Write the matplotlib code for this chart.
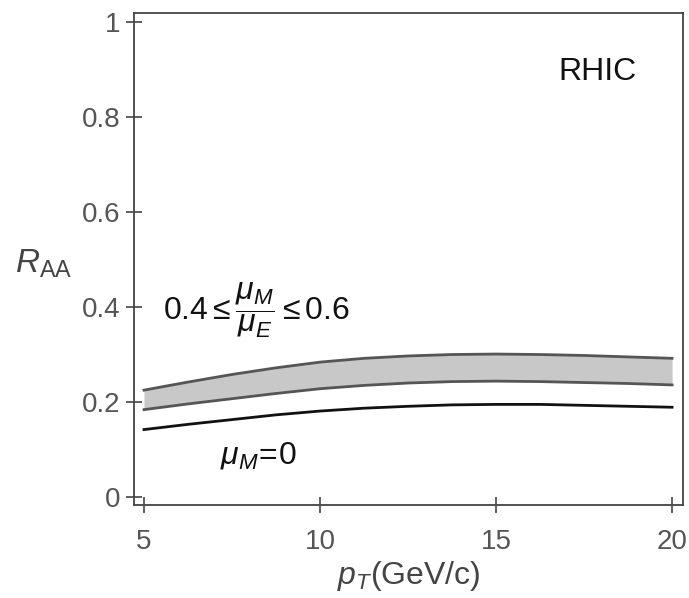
import matplotlib
matplotlib.use("Agg")
import matplotlib.pyplot as plt

plt.rcParams['font.family'] = ['Liberation Sans', 'DejaVu Sans']
plt.rcParams['mathtext.fontset'] = 'custom'
plt.rcParams['mathtext.rm'] = 'Liberation Sans'
plt.rcParams['mathtext.it'] = 'Liberation Sans:italic'
plt.rcParams['mathtext.bf'] = 'Liberation Sans:bold'

# Data
pt = [5, 6.25, 7.5, 8.75, 10, 11.25, 12.5, 13.75, 15, 16.25, 17.5, 18.75, 20]
band_upper = [0.225, 0.242, 0.258, 0.272, 0.284, 0.292, 0.297, 0.300, 0.301,
              0.300, 0.298, 0.295, 0.292]
band_lower = [0.184, 0.196, 0.207, 0.218, 0.228, 0.235, 0.240, 0.243, 0.244,
              0.243, 0.241, 0.239, 0.236]
raa_mu0 = [0.142, 0.153, 0.163, 0.173, 0.181, 0.187, 0.191, 0.194, 0.195,
           0.195, 0.193, 0.191, 0.189]

xticks = [5, 10, 15, 20]
yticks = [0, 0.2, 0.4, 0.6, 0.8, 1]
yticklabels = ['0', '0.2', '0.4', '0.6', '0.8', '1']

fig = plt.figure(figsize=(6.89, 5.98), dpi=100)
ax = fig.add_axes([134/689, 1-505/598, (683-134)/689, (505-13)/598])

ax.fill_between(pt, band_lower, band_upper, color='#c8c8c8', lw=0)
ax.plot(pt, band_upper, color='#555555', lw=2.0, solid_joinstyle='round')
ax.plot(pt, band_lower, color='#555555', lw=2.0, solid_joinstyle='round')
ax.plot(pt, raa_mu0, color='#111111', lw=2.0, solid_joinstyle='round')

ax.set_xlim(4.716, 20.31)
ax.set_ylim(-0.0168, 1.019)
ax.set_xticks(xticks)
ax.set_yticks(yticks)
ax.set_yticklabels(yticklabels)
ax.tick_params(direction='inout', length=12, width=1.2, color='#444444',
               labelsize=20, labelcolor='#555555', pad=4)
ax.tick_params(axis='x', pad=11)
for s in ax.spines.values():
    s.set_color('#444444')
    s.set_linewidth(1.3)

ax.set_xlabel(r'$p_T$(GeV/c)', fontsize=23, color='#444444', labelpad=3)
ax.set_ylabel(r'$R_{\mathrm{AA}}$', fontsize=24, color='#444444', rotation=0,
              ha='center', va='center')
ax.yaxis.set_label_coords(-0.165, 0.49)

ax.text(17.88, 0.895, 'RHIC', fontsize=23, color='#111111', ha='center', va='center')
ax.text(5.54, 0.375, r'$0.4 \leq \dfrac{\mu_M}{\mu_E} \leq 0.6$', fontsize=23,
        color='#111111', ha='left', va='baseline')
ax.text(7.16, 0.088, r'$\mu_M\!=\!0$', fontsize=23, color='#111111',
        ha='left', va='center')

fig.savefig('out.png', dpi=100)
